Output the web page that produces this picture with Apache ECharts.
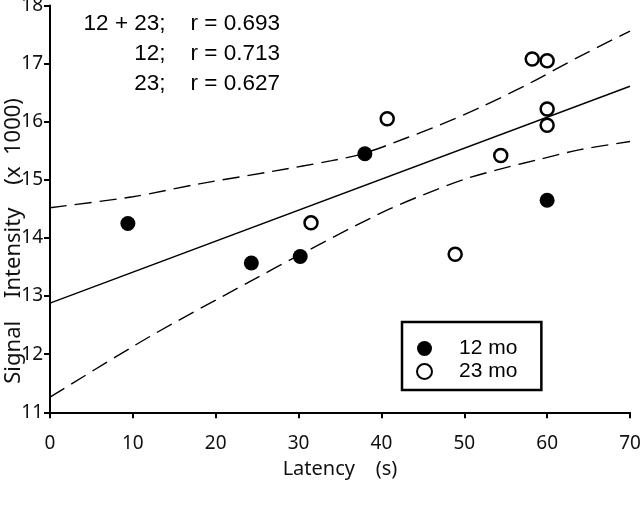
<!DOCTYPE html>
<html>
<head>
<meta charset="utf-8">
<script src="https://cdn.jsdelivr.net/npm/echarts@6/dist/echarts.min.js"></script>
<style>html,body{margin:0;padding:0;background:#fff;}#c{width:640px;height:506px;}</style>
</head>
<body>
<div id="c"></div>
<script>
// 12-month group (filled)
const lat12 = [9.4, 24.3, 30.2, 38.0, 60];
const sig12 = [14.25, 13.57, 13.68, 15.45, 14.65];
// 23-month group (open)
const lat23 = [31.5, 40.7, 48.9, 54.4, 58.2, 60, 60, 60];
const sig23 = [14.26, 16.05, 13.72, 15.42, 17.08, 17.05, 16.22, 15.94];
// regression line
const regX = [0, 70];
const regY = [12.88, 16.61];
// upper 95% confidence band
const upX = [0, 10, 18, 27, 34, 38, 43, 47, 52, 58, 64, 70];
const upY = [14.52, 14.71, 14.93, 15.15, 15.33, 15.46, 15.72, 15.94, 16.25, 16.67, 17.13, 17.56];
// lower 95% confidence band
const loX = [0, 12, 24, 30, 37, 41, 45, 50, 55, 59, 64, 70];
const loY = [11.26, 12.30, 13.24, 13.70, 14.22, 14.50, 14.74, 15.01, 15.21, 15.35, 15.52, 15.66];
// axis ticks
const xTicks = [0, 10, 20, 30, 40, 50, 60, 70];
const yTicks = [11, 12, 13, 14, 15, 16, 17, 18];
// annotation lines
const notes = ['12 + 23;    r = 0.693', '12;    r = 0.713', '23;    r = 0.627'];

const zip = (a, b) => a.map((v, i) => [v, b[i]]);
const tickFont = 'Noto Sans';
const chart = echarts.init(document.getElementById('c'), null, {renderer: 'canvas'});
chart.setOption({
  animation: false,
  backgroundColor: '#fff',
  grid: {left: 50, right: 10, top: 5.5, bottom: 93.7, containLabel: false, outerBoundsMode: 'none'},
  xAxis: {
    type: 'value', min: xTicks[0], max: xTicks[xTicks.length - 1], interval: 10,
    name: 'Latency    (s)', nameLocation: 'middle', nameGap: 47,
    nameTextStyle: {fontFamily: tickFont, fontSize: 20, color: '#111'},
    axisLine: {lineStyle: {color: '#000', width: 2}},
    axisTick: {show: true, length: 6, lineStyle: {color: '#000', width: 2}},
    axisLabel: {fontFamily: tickFont, fontSize: 19, color: '#111', margin: 22},
    splitLine: {show: false}
  },
  yAxis: {
    type: 'value', min: yTicks[0], max: yTicks[yTicks.length - 1], interval: 1,
    name: 'Signal    Intensity    (x  1000)', nameLocation: 'middle', nameGap: 25,
    nameMoveOverlap: false,
    nameTextStyle: {fontFamily: tickFont, fontSize: 22, color: '#111', padding: [0, 64, 0, 0]},
    axisLine: {lineStyle: {color: '#000', width: 2}},
    axisTick: {show: true, length: 6, lineStyle: {color: '#000', width: 2}},
    axisLabel: {fontFamily: tickFont, fontSize: 19, color: '#111', margin: 7},
    splitLine: {show: false}
  },
  legend: {
    data: ['12 mo', '23 mo'],
    orient: 'vertical', left: 402, top: 322,
    padding: [16, 24, 8, 14],
    itemGap: 2, itemWidth: 15, itemHeight: 15,
    borderColor: '#000', borderWidth: 2.5,
    textStyle: {fontFamily: 'Liberation Sans', fontSize: 21, color: '#000', padding: [0, 0, 0, 22]}
  },
  graphic: notes.map((t, i) => ({
    type: 'text', right: 640 - 280, top: 12 + i * 30,
    style: {text: t, fontFamily: 'Liberation Sans', fontSize: 22.5, fill: '#000', textAlign: 'right'}
  })),
  series: [
    {name: 'fit', type: 'line', data: zip(regX, regY), showSymbol: false, symbol: 'none',
     lineStyle: {color: '#000', width: 1.4}, z: 2},
    {name: 'upper', type: 'line', data: zip(upX, upY), smooth: 0.3, symbol: 'none',
     lineStyle: {color: '#000', width: 1.4, type: [17, 8]}, z: 2},
    {name: 'lower', type: 'line', data: zip(loX, loY), smooth: 0.3, symbol: 'none',
     lineStyle: {color: '#000', width: 1.4, type: [17, 8]}, z: 2},
    {name: '12 mo', type: 'scatter', data: zip(lat12, sig12), symbol: 'circle', symbolSize: 15,
     itemStyle: {color: '#000', opacity: 1}, z: 4},
    {name: '23 mo', type: 'scatter', data: zip(lat23, sig23), symbol: 'circle', symbolSize: 13,
     itemStyle: {color: '#fff', borderColor: '#000', borderWidth: 2.5, opacity: 1}, z: 5}
  ]
});
</script>
</body>
</html>
